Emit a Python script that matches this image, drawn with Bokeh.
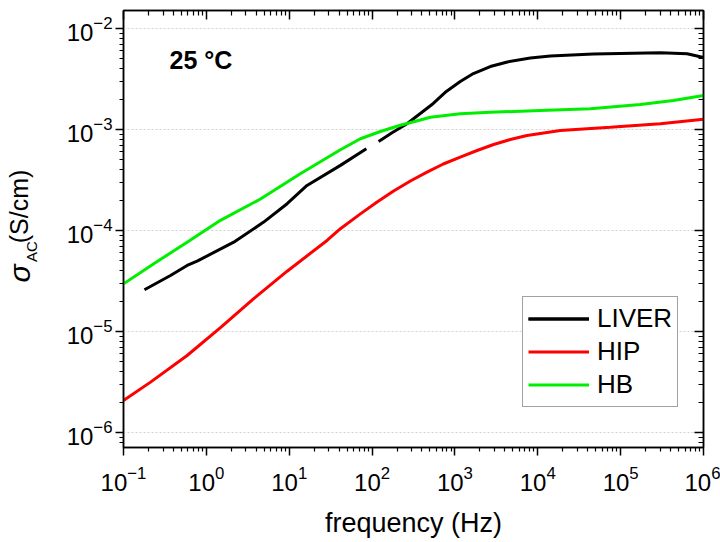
import math
from bokeh.plotting import figure
from bokeh.layouts import row
from bokeh.models import FixedTicker, LogTickFormatter, Label, Range1d, LogAxis, CustomJSTickFormatter
from bokeh.core.properties import value
from bokeh.embed import file_html
from bokeh.resources import INLINE

# ---- data ----
freq_major = [1e-1, 1e0, 1e1, 1e2, 1e3, 1e4, 1e5, 1e6]
sigma_major = [1e-6, 1e-5, 1e-4, 1e-3, 1e-2]

liver_f1 = [0.179, 0.369, 0.586, 0.774, 2.14, 4.92, 9.44, 16.4, 41.5, 85.3]
liver_s1 = [2.59e-5, 3.58e-5, 4.50e-5, 4.97e-5, 7.66e-5, 1.21e-4, 1.84e-4, 2.79e-4, 4.41e-4, 6.44e-4]
liver_f2 = [120, 176, 264, 548, 787, 1160, 1670, 2670, 4290, 8130, 14200, 46800, 301000, 635000, 1.0e6]
liver_s2 = [7.60e-4, 9.34e-4, 1.14e-3, 1.81e-3, 2.38e-3, 2.99e-3, 3.58e-3, 4.20e-3, 4.66e-3, 5.10e-3,
            5.35e-3, 5.60e-3, 5.74e-3, 5.62e-3, 5.16e-3]

hip_f = [0.1, 0.212, 0.586, 1.48, 3.73, 9.44, 28.6, 41.5, 72.3, 115, 182, 290, 460, 724, 1160,
         1850, 2930, 4660, 7410, 18700, 75000, 301000, 1.0e6]
hip_s = [2.07e-6, 3.15e-6, 5.78e-6, 1.09e-5, 2.11e-5, 3.95e-5, 7.96e-5, 1.04e-4, 1.46e-4, 1.91e-4,
         2.46e-4, 3.09e-4, 3.78e-4, 4.55e-4, 5.32e-4, 6.19e-4, 7.10e-4, 7.96e-4, 8.73e-4, 9.77e-4,
         1.05e-3, 1.14e-3, 1.26e-3]

hb_f = [0.1, 0.232, 0.586, 1.48, 4.50, 13.6, 41.5, 72.3, 126, 219, 383, 505, 1160, 2670, 10700,
        43000, 173000, 432000, 1.0e6]
hb_s = [2.96e-5, 4.68e-5, 7.66e-5, 1.26e-4, 2.05e-4, 3.64e-4, 6.30e-4, 8.09e-4, 9.55e-4, 1.10e-3,
        1.24e-3, 1.32e-3, 1.43e-3, 1.48e-3, 1.54e-3, 1.60e-3, 1.77e-3, 1.94e-3, 2.17e-3]

FONT = "Liberation Sans"
LAB_W = 50  # width of the strip that carries the rotated y-axis title
H = 542
B_TOP, B_BOT = 10, 95

p = figure(width=720 - LAB_W, height=H, x_axis_type="log", y_axis_type="log",
           x_range=Range1d(0.1, 1e6), y_range=Range1d(10 ** -6.149, 10 ** -1.822),
           output_backend="svg", toolbar_location=None,
           min_border_left=123 - LAB_W, min_border_right=17, min_border_top=B_TOP,
           min_border_bottom=B_BOT)
p.outline_line_color = "black"
p.outline_line_width = 1.5
p.background_fill_color = "white"
p.border_fill_color = "white"

x_minor = [m * 10.0 ** d for d in range(-2, 7) for m in range(2, 10)]
y_minor = [m * 10.0 ** d for d in range(-8, -1) for m in range(2, 10)]


def style_axis(ax, ticks, minor, outward, labels):
    ax.ticker = FixedTicker(ticks=ticks, minor_ticks=minor)
    ax.axis_line_color = "black"
    ax.axis_line_width = 1.5
    ax.major_tick_line_color = "black"
    ax.minor_tick_line_color = "black"
    ax.major_tick_line_width = 1.5
    ax.minor_tick_line_width = 1.2
    if outward:
        ax.major_tick_out, ax.major_tick_in = 8, 0
        ax.minor_tick_out, ax.minor_tick_in = 4, 0
    else:
        ax.major_tick_out, ax.major_tick_in = 0, 9
        ax.minor_tick_out, ax.minor_tick_in = 0, 5
    if labels:
        ax.formatter = LogTickFormatter()
        ax.major_label_text_font = FONT
        ax.major_label_text_font_size = "24px"
        ax.major_label_text_color = "black"
    else:
        ax.formatter = CustomJSTickFormatter(code="return ''")
        ax.major_label_text_font_size = "1px"
        ax.major_label_text_alpha = 0
        ax.major_label_standoff = 0


xb = p.xaxis[0]
yl = p.yaxis[0]
style_axis(xb, freq_major, x_minor, True, True)
style_axis(yl, sigma_major, y_minor, True, True)
xb.major_label_standoff = 10
yl.major_label_standoff = 3

xb.axis_label = "frequency (Hz)"
xb.axis_label_text_font = FONT
xb.axis_label_text_font_size = "27px"
xb.axis_label_text_font_style = "normal"
xb.axis_label_text_color = "black"
xb.axis_label_standoff = 14

xt = LogAxis()
style_axis(xt, freq_major, x_minor, False, False)
p.add_layout(xt, "above")
yr = LogAxis()
style_axis(yr, sigma_major, y_minor, False, False)
p.add_layout(yr, "right")

p.xgrid.visible = False
p.ygrid.grid_line_color = "#d0d0d0"
p.ygrid.grid_line_dash = "2 2"
p.ygrid.grid_line_width = 1

# ---- curves ----
p.line(liver_f1, liver_s1, line_color="black", line_width=3, legend_label="LIVER")
p.line(liver_f2, liver_s2, line_color="black", line_width=3, legend_label="LIVER")
p.line(hip_f, hip_s, line_color="#ff0000", line_width=3, legend_label="HIP")
p.line(hb_f, hb_s, line_color="#00ee00", line_width=3, legend_label="HB")

# ---- legend ----
lg = p.legend[0]
lg.location = (399, 40)
lg.label_text_font = FONT
lg.label_text_font_size = "26px"
lg.label_text_color = "black"
lg.glyph_width = 61
lg.glyph_height = 33
lg.label_height = 33
lg.label_standoff = 8
lg.spacing = 0
lg.padding = 5
lg.margin = 0
lg.border_line_color = "#444444"
lg.border_line_width = 1
lg.background_fill_color = "white"
lg.background_fill_alpha = 1.0

# ---- annotation ----
p.add_layout(Label(x=10 ** -0.445, y=10 ** -2.317, text="25 °C", text_font=FONT,
                   text_font_size="25px", text_font_style="bold", text_color="black",
                   text_baseline="alphabetic", text_align="left"))

# ---- y-axis title strip: sigma_AC (S/cm), rotated, centred pieces ----
# the strip's frame is aligned with the main frame, so its y range runs over
# the page rows B_TOP .. H - B_BOT (expressed as distance from the page bottom)
lab = figure(width=LAB_W, height=H, x_range=Range1d(0, LAB_W), y_range=Range1d(B_BOT, H - B_TOP),
             output_backend="svg", toolbar_location=None, x_axis_location=None,
             y_axis_location=None, min_border=0)
lab.outline_line_color = None
lab.grid.visible = False
lab.background_fill_color = "white"
lab.border_fill_color = "white"

ang = math.pi / 2
lab.text(x=[19], y=[H - 273], text=["σ"], angle=ang, text_font=value(FONT),
         text_font_size="30px", text_font_style=value("italic"), text_color="black",
         text_baseline="middle", text_align="center")
lab.text(x=[31], y=[H - 251], text=["AC"], angle=ang, text_font=value(FONT),
         text_font_size="15px", text_color="black",
         text_baseline="middle", text_align="center")
lab.text(x=[18], y=[H - 206], text=["(S/cm)"], angle=ang, text_font=value(FONT),
         text_font_size="25px", text_color="black",
         text_baseline="middle", text_align="center")

layout = row(lab, p)
open("out.html", "w").write(file_html(layout, INLINE))
